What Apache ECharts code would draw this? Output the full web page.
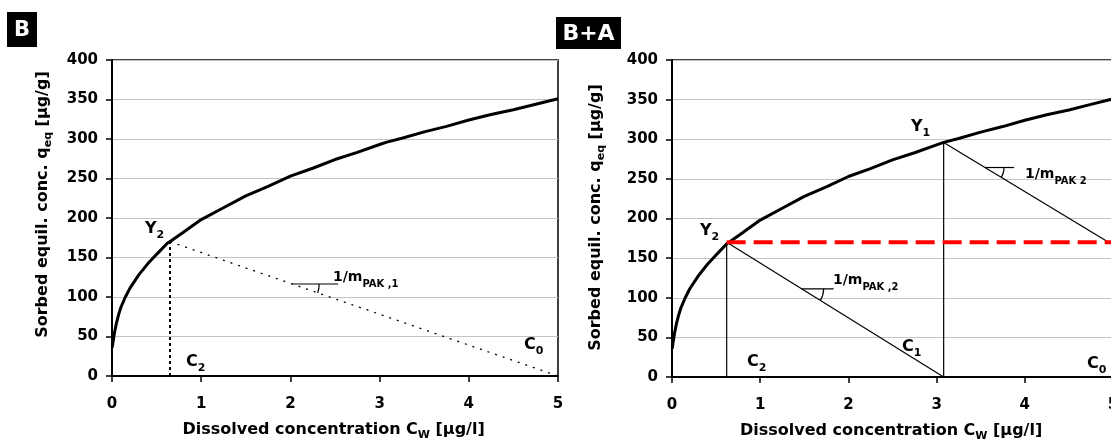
<!DOCTYPE html>
<html>
<head>
<meta charset="utf-8">
<title>Sorption isotherm – single and two-stage dosing</title>
<script src="https://cdn.jsdelivr.net/npm/echarts@6/dist/echarts.min.js"></script>
<style>
  html, body { margin: 0; padding: 0; background: #fff; }
  #chart { width: 1111px; height: 439px; }
</style>
</head>
<body>
<div id="chart"></div>
<script>
// Isotherm: dissolved concentration Cw [µg/l] vs sorbed equilibrium conc. q_eq [µg/g]
const isoC = [0.003, 0.01, 0.02, 0.03, 0.05, 0.075, 0.1, 0.15, 0.2, 0.3, 0.4, 0.5, 0.62, 0.66, 0.8, 1.0,
              1.25, 1.5, 1.75, 2.0, 2.25, 2.5, 2.75, 3.0, 3.08, 3.25, 3.5, 3.75, 4.0, 4.25, 4.5, 4.75, 5.0];
const isoQ = [36, 42, 49, 56, 67, 78, 87, 100, 111, 128, 142, 154, 168, 171, 182, 198,
              213, 228, 240, 253, 263, 274, 283, 293, 296, 301, 309, 316, 324, 331, 337, 344, 351];

// Panel B: one-stage operating line Y2 -> C0
const stageB_Y2 = [0.65, 170];
const stageB_C2 = [0.65, 0];
const stageB_C0 = [5, 0];

// Panel B+A: two-stage construction
const stageBA_Y2 = [0.62, 170];
const stageBA_C2 = [0.62, 0];
const stageBA_C1 = [3.08, 0];
const stageBA_Y1 = [3.08, 296];
const stageBA_end = [4.95, 170];
const stageBA_level = [[0.62, 170], [5, 170]];

const xTicks = [0, 1, 2, 3, 4, 5];
const yTicks = [0, 50, 100, 150, 200, 250, 300, 350, 400];

const FONT = 'DejaVu Sans';
const isoData = isoC.map((c, i) => [c, isoQ[i]]);

function xAxisFor(gridIndex) {
  return {
    type: 'value', gridIndex, min: xTicks[0], max: xTicks[xTicks.length - 1], interval: 1,
    name: '{m|Dissolved concentration C}{s|W}{m| [µg/l]}{h| }',
    nameLocation: 'middle', nameGap: 46,
    nameTextStyle: {
      rich: {
        m: { fontFamily: FONT, fontWeight: 'bold', fontSize: 16, color: '#000', lineHeight: 16, verticalAlign: 'top' },
        s: { fontFamily: FONT, fontWeight: 'bold', fontSize: 11, color: '#000', lineHeight: 11, verticalAlign: 'bottom' },
        h: { fontSize: 10, lineHeight: 19 }
      }
    },
    axisLine: { show: true, onZero: false, lineStyle: { color: '#000', width: 2 } },
    axisTick: { show: true, length: 6, inside: false, lineStyle: { color: '#000', width: 1.5 } },
    axisLabel: { fontFamily: FONT, fontWeight: 'bold', fontSize: 15, color: '#000', margin: 21 },
    splitLine: { show: false }
  };
}
function yAxisFor(gridIndex) {
  return {
    type: 'value', gridIndex, min: yTicks[0], max: yTicks[yTicks.length - 1], interval: 50,
    axisLine: { show: true, onZero: false, lineStyle: { color: '#000', width: 2 } },
    axisTick: { show: true, length: 6, lineStyle: { color: '#000', width: 1.5 } },
    axisLabel: { fontFamily: FONT, fontWeight: 'bold', fontSize: 15, color: '#000', margin: 14 },
    splitLine: { show: true, lineStyle: { color: '#c4c4c4', width: 1 } }
  };
}
function seg(points, gi, style, z) {
  return {
    type: 'line', xAxisIndex: gi, yAxisIndex: gi, data: points, symbol: 'none',
    lineStyle: style, silent: true, z: z || 3, animation: false
  };
}

const chart = echarts.init(document.getElementById('chart'), null, { renderer: 'canvas' });

chart.setOption({
  animation: false,
  backgroundColor: '#fff',
  grid: [
    { left: 112, top: 60, width: 446, height: 316, show: true, borderColor: '#000', borderWidth: 1.5,
      containLabel: false, outerBoundsMode: 'none' },
    { left: 672, top: 60, width: 441, height: 317, show: true, borderColor: '#000', borderWidth: 1.5,
      containLabel: false, outerBoundsMode: 'none' }
  ],
  xAxis: [xAxisFor(0), xAxisFor(1)],
  yAxis: [yAxisFor(0), yAxisFor(1)],
  series: [
    // panel B
    seg(isoData, 0, { color: '#000', width: 3 }, 5),
    seg([stageB_C2, stageB_Y2], 0, { color: '#000', width: 2, type: [3, 3] }),
    seg([stageB_Y2, stageB_C0], 0, { color: '#000', width: 1.3, type: [2, 6] }),
    // panel B+A
    seg(isoData, 1, { color: '#000', width: 3 }, 5),
    seg([stageBA_C2, stageBA_Y2], 1, { color: '#000', width: 1.2 }),
    seg([stageBA_Y2, stageBA_C1], 1, { color: '#000', width: 1.2 }),
    seg([stageBA_C1, stageBA_Y1], 1, { color: '#000', width: 1.2 }),
    seg([stageBA_Y1, stageBA_end], 1, { color: '#000', width: 1.2 }),
    seg(stageBA_level, 1, { color: '#ff0000', width: 4, type: [19, 8] }, 6)
  ]
});

// ---------- annotations ----------
const bold = (size) => ({ fontFamily: FONT, fontWeight: 'bold', fontSize: size, fill: '#000' });
function subLabel(x, y, main, sub, big, small, drop) {
  return {
    type: 'text', x, y, z: 20, silent: true,
    style: {
      text: '{m|' + main + '}{s|' + sub + '}{h| }',
      rich: {
        m: Object.assign(bold(big), { lineHeight: big, verticalAlign: 'top' }),
        s: Object.assign(bold(small), { lineHeight: small, verticalAlign: 'bottom' }),
        h: { fontSize: 4, lineHeight: big + drop }
      }
    }
  };
}
function boxLabel(x, y, w, h, txt, size) {
  return [
    { type: 'rect', shape: { x, y, width: w, height: h }, style: { fill: '#000' }, z: 20 },
    { type: 'text', x: x + w / 2, y: y + h / 2 + 1, z: 21,
      style: Object.assign(bold(size), { fill: '#fff', text: txt, align: 'center', verticalAlign: 'middle' }) }
  ];
}
function yName(cx, cy) {
  return {
    type: 'text', x: cx, y: cy, rotation: Math.PI / 2, z: 20, silent: true,
    style: {
      text: '{m|Sorbed equil. conc. q}{s|eq}{m| [µg/g]}{h| }',
      align: 'center', verticalAlign: 'middle',
      rich: {
        m: Object.assign(bold(16), { lineHeight: 16, verticalAlign: 'top' }),
        s: Object.assign(bold(11), { lineHeight: 11, verticalAlign: 'bottom' }),
        h: { fontSize: 4, lineHeight: 19 }
      }
    }
  };
}
// slope mark: short horizontal stroke from a point on an operating line, plus the angle arc
function slopeMark(gi, p0, p1, atX, len, r) {
  const t = (atX - p0[0]) / (p1[0] - p0[0]);
  const pt = [atX, p0[1] + t * (p1[1] - p0[1])];
  const a = chart.convertToPixel({ gridIndex: gi }, pt);
  const b = chart.convertToPixel({ gridIndex: gi }, p1);
  const ang = Math.atan2(b[1] - a[1], b[0] - a[0]);
  return [
    { type: 'line', shape: { x1: a[0], y1: a[1], x2: a[0] + len, y2: a[1] }, style: { stroke: '#000', lineWidth: 1.2 }, z: 20 },
    { type: 'arc', shape: { cx: a[0], cy: a[1], r, startAngle: 0, endAngle: ang, clockwise: true },
      style: { stroke: '#000', lineWidth: 1.2, fill: null }, z: 20 }
  ];
}

const graphics = [].concat(
  boxLabel(7, 12, 30, 35, 'B', 21),
  boxLabel(556, 17, 65, 32, 'B+A', 22),
  [yName(44, 204), yName(597, 217)],
  // panel B labels
  [subLabel(145, 221, 'Y', '2', 16, 11, 4),
   subLabel(186, 354, 'C', '2', 16, 11, 4),
   subLabel(524, 337, 'C', '0', 16, 11, 4),
   subLabel(333, 270, '1/m', 'PAK ,1', 14, 10, 5)],
  slopeMark(0, stageB_Y2, stageB_C0, 2.02, 46, 27),
  // panel B+A labels
  [subLabel(700, 223, 'Y', '2', 16, 11, 4),
   subLabel(911, 119, 'Y', '1', 16, 11, 4),
   subLabel(747, 354, 'C', '2', 16, 11, 4),
   subLabel(902, 339, 'C', '1', 16, 11, 4),
   subLabel(1087, 356, 'C', '0', 16, 11, 4),
   subLabel(833, 273, '1/m', 'PAK ,2', 14, 10, 5),
   subLabel(1025, 167, '1/m', 'PAK 2', 14, 10, 5)],
  slopeMark(1, stageBA_Y2, stageBA_C1, 1.47, 32, 22),
  slopeMark(1, stageBA_Y1, stageBA_end, 3.55, 29, 19)
);
chart.setOption({ graphic: graphics });
</script>
</body>
</html>
